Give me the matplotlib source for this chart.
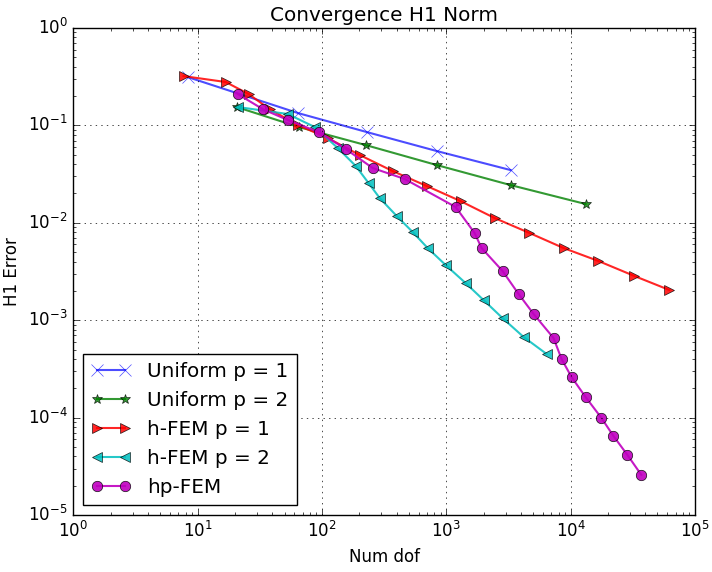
# Convergence plot, H1 norm, log-log
import matplotlib
matplotlib.use('Agg')
import matplotlib.pyplot as plt

plt.style.use('classic')

# uniform refinement p = 1
uni1_dof = [8.3, 64, 229, 836, 3290]
uni1_err = [0.314, 0.134, 0.0855, 0.0546, 0.0348]

# uniform refinement p = 2
uni2_dof = [20.6, 65, 224, 836, 3290, 13180]
uni2_err = [0.1545, 0.0963, 0.0629, 0.0392, 0.0244, 0.0156]

# adaptive h-FEM p = 1
h1_dof = [7.7, 16.8, 25.7, 37.9, 63.8, 111, 201, 370, 695, 1303,
          2445, 4670, 8770, 16760, 32660, 62400]
h1_err = [0.321, 0.279, 0.210, 0.147, 0.101, 0.0743, 0.0497, 0.0340,
          0.0239, 0.0167, 0.0112, 0.00786, 0.00551, 0.00405, 0.00284, 0.00204]

# adaptive h-FEM p = 2
h2_dof = [21.0, 53.0, 87.4, 134, 187, 237, 291, 399, 536, 708,
          987, 1428, 1995, 2836, 4185, 6411]
h2_err = [0.1545, 0.131, 0.0963, 0.0586, 0.0383, 0.0256, 0.0180, 0.01175,
          0.00805, 0.00551, 0.00369, 0.00241, 0.00161, 0.00105, 0.000673, 0.000450]

# adaptive hp-FEM
hp_dof = [21.0, 33.4, 53.0, 94.0, 155, 256, 462, 1189, 1689, 1923, 2836,
          3814, 5036, 7290, 8455, 10170, 13180, 17710, 22120, 28650, 37060]
hp_err = [0.210, 0.147, 0.1136, 0.0855, 0.0573, 0.0365, 0.0282, 0.01453,
          0.00786, 0.00551, 0.00320, 0.00186, 0.00116, 0.000656, 0.000400,
          0.000261, 0.000163, 0.0000990, 0.0000647, 0.0000413, 0.0000258]

fig = plt.figure(figsize=(7.12, 5.72), dpi=100)
ax = fig.add_axes([0.103, 0.0997, 0.873, 0.8513])

ax.loglog(uni1_dof, uni1_err, 'bx-', label='Uniform p = 1', lw=1.5, ms=8, alpha=0.7)
ax.loglog(uni2_dof, uni2_err, 'g*-', label='Uniform p = 2', lw=1.5, ms=7, alpha=0.8)
ax.loglog(h1_dof, h1_err, 'r>-', label='h-FEM p = 1', lw=1.5, ms=7, alpha=0.85)
ax.loglog(h2_dof, h2_err, 'c<-', label='h-FEM p = 2', lw=1.5, ms=7, alpha=0.85)
ax.loglog(hp_dof, hp_err, 'mo-', label='hp-FEM', lw=1.5, ms=7.5, alpha=0.9)

ax.set_xlim(1, 1e5)
ax.set_ylim(1e-5, 1)
ax.grid(True)
ax.set_xlabel('Num dof')
ax.set_ylabel('H1 Error')
ax.set_title('Convergence H1 Norm')
ax.legend(loc='lower left')

fig.savefig('out.png', dpi=100)
